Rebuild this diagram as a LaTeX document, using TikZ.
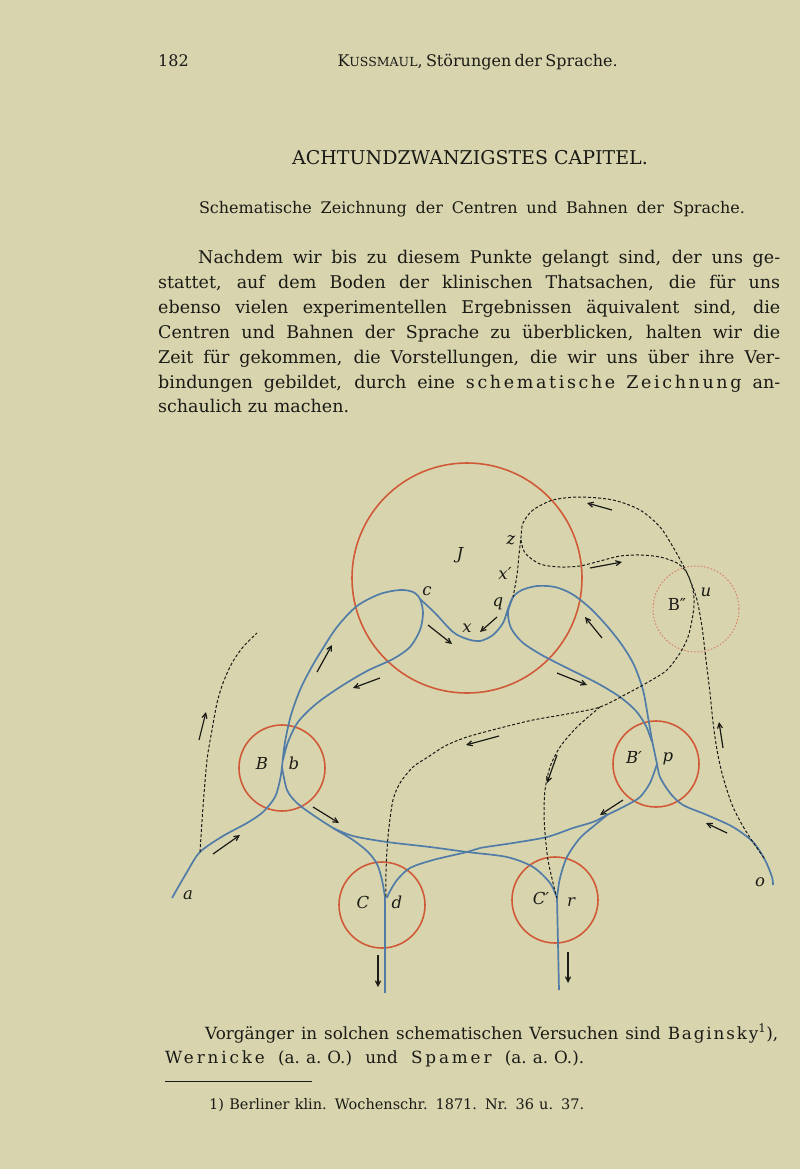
\documentclass[tikz,border=0pt]{standalone}
\usepackage{fontspec}
\setmainfont{DejaVu Serif}
\usetikzlibrary{arrows.meta}
\definecolor{paper}{RGB}{216,213,174}
\definecolor{ink}{RGB}{26,26,22}
\definecolor{redc}{RGB}{208,90,56}
\definecolor{bluec}{RGB}{82,124,168}
\newcommand\spc[1]{{\addfontfeature{LetterSpace=15}#1}}
\newcommand\spcs[1]{{\addfontfeature{LetterSpace=11}#1}}
\newcommand\spcw[1]{{\addfontfeature{LetterSpace=17}#1}}
\newcommand\aao{(a.\kern6pt a.\kern6pt O.)}
\tikzset{
 txt/.style={inner sep=0pt, anchor=base west, text=ink, font=\fontsize{17.5}{22}\selectfont},
 ctxt/.style={inner sep=0pt, anchor=base, text=ink},
 lbl/.style={inner sep=0pt, text=ink, font=\fontsize{16.5}{18}\selectfont\itshape},
 redcirc/.style={circle, draw=redc, line width=1.6pt, inner sep=0pt},
 dotcirc/.style={circle, draw=redc!75, line width=1pt, dash pattern=on 1.6pt off 1.8pt, inner sep=0pt},
 blueline/.style={draw=bluec, line width=1.7pt},
 dashline/.style={draw=ink, line width=1pt, dash pattern=on 3pt off 2pt},
 arr/.style={draw=ink, line width=1.2pt, -{Straight Barb[length=5pt,width=5pt]}},
}
\begin{document}
\begin{tikzpicture}[x=1pt,y=-1pt]
\fill[paper] (0,0) rectangle (800,1169);
\useasboundingbox (0,0) rectangle (800,1169);

% header
\node[txt, font=\fontsize{16}{20}\selectfont] (pg) at (158,67) {182};
\node[ctxt, font=\fontsize{16}{20}\selectfont] (hd) at (472,67) {\makebox[269pt][s]{K{\fontsize{12.5}{20}\selectfont USSMAUL}, Störungen der Sprache.}};
\node[ctxt, font=\fontsize{19}{24}\selectfont] (tt) at (470,165) {ACHTUNDZWANZIGSTES CAPITEL.};
\node[ctxt, font=\fontsize{16}{22}\selectfont] (st) at (472,214) {\makebox[546pt][s]{Schematische Zeichnung der Centren und Bahnen der Sprache.}};

% paragraph
\node[txt] (l1) at (198,263) {\makebox[582pt][s]{Nachdem wir bis zu diesem Punkte gelangt sind, der uns ge-}};
\node[txt] (l2) at (158,288) {\makebox[622pt][s]{stattet, auf dem Boden der klinischen Thatsachen, die für uns}};
\node[txt] (l3) at (158,313) {\makebox[622pt][s]{ebenso vielen experimentellen Ergebnissen äquivalent sind, die}};
\node[txt] (l4) at (158,338) {\makebox[622pt][s]{Centren und Bahnen der Sprache zu überblicken, halten wir die}};
\node[txt] (l5) at (158,363) {\makebox[622pt][s]{Zeit für gekommen, die Vorstellungen, die wir uns über ihre Ver-}};
\node[txt] (l6) at (158,388) {\makebox[622pt][s]{bindungen gebildet, durch eine \spc{schematische} \spc{Zeichnung} an-}};
\node[txt] (l7) at (158,412) {schaulich zu machen.};

% bottom text
\node[txt, font=\fontsize{16.8}{22}\selectfont] (b1) at (205,1039) {\makebox[573pt][s]{Vorgänger in solchen schematischen Versuchen sind \spcs{Baginsky}\textsuperscript{1}),}};
\node[txt, font=\fontsize{16.8}{22}\selectfont] (b2) at (165,1063) {\makebox[419pt][s]{\spcw{Wernicke} \aao{} und \spcw{Spamer} \aao.}};
\coordinate (r1) at (165,1081);
\coordinate (r2) at (312,1081);
\draw[ink, line width=0.9pt] (r1) -- (r2);
\node[txt, font=\fontsize{14.5}{18}\selectfont] (fn) at (209,1109) {\makebox[375pt][s]{1) Berliner klin. Wochenschr. 1871. Nr. 36 u. 37.}};

% centres
\node[redcirc, minimum size=230pt] (J) at (467,578) {};
\node[redcirc, minimum size=86pt] (B) at (282,768) {};
\node[redcirc, minimum size=86pt] (C) at (382,905) {};
\node[redcirc, minimum size=86pt] (Bp) at (656,764) {};
\node[redcirc, minimum size=86pt] (Cp) at (555,900) {};
\node[dotcirc, minimum size=86pt] (Bpp) at (696,609) {};

% blue paths
\draw[blueline] plot[smooth] coordinates {(172,898) (187,872) (200,852) (223,836) (247,823) (263,812) (275,797) (280,780) (282,767)};
\draw[blueline] plot[smooth] coordinates {(282,767) (285,742) (291,715) (300,690) (310,670) (320,653) (337,627) (357,606) (380,594) (400,590) (413,592) (420,599) (423,613) (420,630) (410,647) (393,659) (367,671) (340,687) (316,704) (298,722) (288,742) (283,760)};
\draw[blueline] plot[smooth] coordinates {(420,599) (435,613) (453,632) (467,639) (480,641) (493,635) (503,623) (508,609) (513,597) (522,590) (537,586) (555,587) (572,594) (590,608) (607,626) (622,645) (634,665) (643,690) (648,717) (652,740) (657,764)};
\draw[blueline] plot[smooth] coordinates {(513,597) (508,612) (511,628) (522,642) (540,654) (563,666) (597,683) (620,697) (636,711) (646,726) (652,742)};
\draw[blueline] plot[smooth] coordinates {(657,764) (650,783) (640,797) (627,805) (607,815) (593,822) (573,828) (547,837) (513,843) (480,848) (467,852) (433,860) (410,868) (397,880) (389,893) (387,898)};
\draw[blueline] plot[smooth] coordinates {(607,815) (595,825) (580,838) (567,857) (560,878) (557,898)};
\draw[blueline] plot[smooth] coordinates {(282,767) (287,790) (297,803) (313,815) (333,828) (353,840) (368,852) (377,864) (382,880) (385,897)};
\draw[blueline] plot[smooth] coordinates {(333,828) (353,836) (387,842) (430,847) (467,852) (507,857) (533,867) (550,883) (557,898)};
\draw[blueline] plot[smooth] coordinates {(657,764) (660,777) (670,793) (683,805) (707,815) (733,827) (753,842) (765,860) (772,877) (773,885)};
\coordinate (dC) at (385,897);
\coordinate (dCe) at (385,993);
\coordinate (rC) at (557,898);
\coordinate (rCe) at (559,990);
\draw[blueline] (dC) -- (dCe);
\draw[blueline] (rC) -- (rCe);

% dashed paths
\draw[dashline] plot[smooth] coordinates {(200,852) (203,807) (207,760) (212,730) (217,703) (223,683) (232,663) (243,647) (257,633)};
\draw[dashline] plot[smooth] coordinates {(764,858) (747,833) (733,807) (723,777) (717,750) (713,722) (710,693) (706,660) (702,627) (697,600) (690,580) (683,565) (673,547) (660,527) (640,510) (613,500) (580,497) (553,500) (533,510) (523,523) (521,537) (519,555) (517,575) (513,597)};
\draw[dashline] plot[smooth] coordinates {(521,540) (525,553) (540,564) (560,567) (580,566) (600,561) (620,556) (640,555) (660,557) (677,563) (687,573) (693,590) (694,605) (692,620) (688,637) (680,653) (667,670) (650,681) (630,692) (600,707) (567,714) (533,720) (500,728) (467,737) (445,746) (428,757) (413,767) (400,783) (393,800) (389,827) (387,850) (386,873) (386,897)};
\draw[dashline] plot[smooth] coordinates {(600,707) (577,727) (560,747) (550,767) (545,790) (544,813) (545,833) (548,860) (554,887) (557,898)};

% arrows
\draw[arr] (213,854) -- (240,835);
\draw[arr] (199,740) -- (206,712);
\draw[arr] (317,672) -- (332,645);
\draw[arr] (380,678) -- (353,688);
\draw[arr] (428,625) -- (452,644);
\draw[arr] (497,617) -- (480,632);
\draw[arr] (602,638) -- (585,617);
\draw[arr] (557,673) -- (587,685);
\draw[arr] (313,807) -- (339,823);
\draw[arr] (623,800) -- (600,815);
\draw[arr] (727,833) -- (706,823);
\draw[arr] (723,748) -- (719,722);
\draw[arr] (378,955) -- (378,987);
\draw[arr] (568,952) -- (568,983);
\draw[arr] (612,510) -- (587,503);
\draw[arr] (590,568) -- (622,562);
\draw[arr] (499,736) -- (466,745);
\draw[arr] (557,755) -- (547,783);

% labels
\node[lbl] (lJ) at (460,555) {J};
\node[lbl] (lc) at (427,591) {c};
\node[lbl] (lx) at (467,628) {x};
\node[lbl] (lq) at (498,604) {q};
\node[lbl] (lxp) at (505,573) {x′};
\node[lbl] (lz) at (511,540) {z};
\node[lbl, font=\fontsize{16.5}{18}\selectfont] (lBpp) at (677,604) {B″};
\node[lbl] (lu) at (706,592) {u};
\node[lbl] (lB) at (262,763) {B};
\node[lbl] (lb) at (294,763) {b};
\node[lbl] (lC) at (363,902) {C};
\node[lbl] (ld) at (397,902) {d};
\node[lbl] (lBp) at (634,757) {B′};
\node[lbl] (lp) at (668,759) {p};
\node[lbl] (lCp) at (541,898) {C′};
\node[lbl] (lr) at (571,902) {r};
\node[lbl] (la) at (188,895) {a};
\node[lbl] (lo) at (760,882) {o};
\end{tikzpicture}
\end{document}
